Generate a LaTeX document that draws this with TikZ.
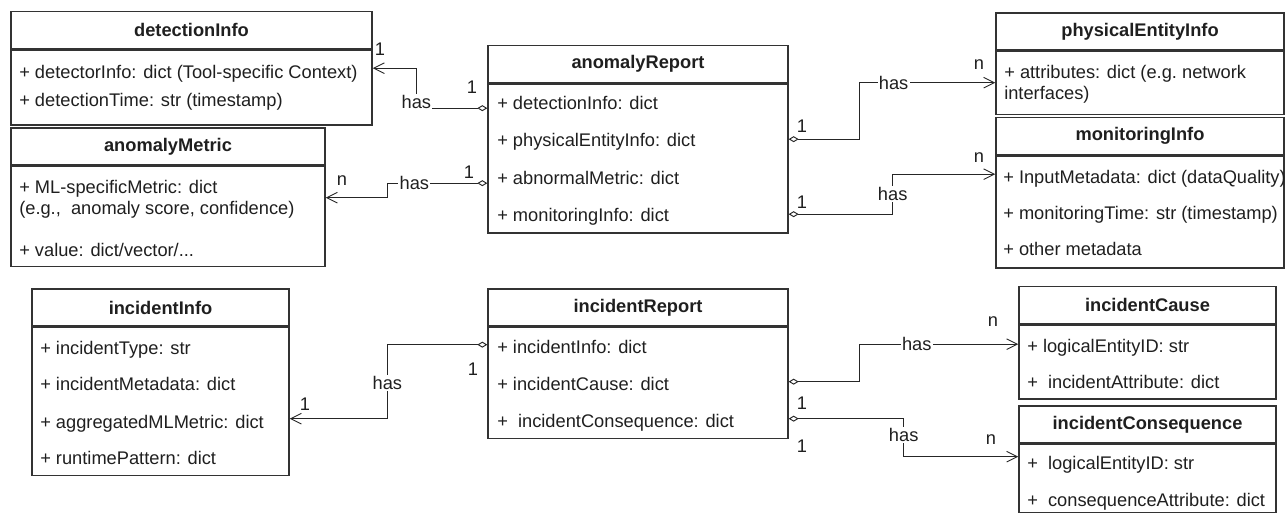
\documentclass[tikz,border=0pt]{standalone}
\usepackage{fontspec}
\setmainfont{Liberation Sans}
\usetikzlibrary{positioning,calc,arrows.meta}

\tikzset{
    every node/.style={font=\fontsize{13.7}{15.75}\selectfont, text=black!88},
    ctitle/.style={draw=black!80, line width=1pt, inner sep=0pt, minimum height=27.75pt,
        minimum width=#1*0.75pt, font=\fontsize{13.7}{15.75}\selectfont\bfseries},
    cbody/.style 2 args={draw=black!80, line width=1pt, inner sep=0pt,
        minimum width=#1*0.75pt, minimum height=#2*0.75pt},
    attr/.style={anchor=base west, inner sep=0pt, align=left},
    assoc/.style={draw=black!85, line width=0.7pt,
        {Diamond[open,length=7.5pt,width=4.5pt]}-{Straight Barb[length=8pt,width=8pt]}},
    haslbl/.style={fill=white, inner sep=1pt},
    mult/.style={inner sep=0pt}
}

\begin{document}
\begin{tikzpicture}[x=0.75pt, y=-0.75pt]
    \useasboundingbox (0,0) rectangle (1286,512);

    % anomaly side
    \node[ctitle=361] (detTitle) at (191.5,30) {detectionInfo};
    \node[cbody={361}{75}, below=0pt of detTitle] (detBody) {};
    \node[attr] (det1) at (19,78) {+ detectorInfo: dict (Tool-specific Context)};
    \node[attr] (det2) at (19,106) {+ detectionTime: str (timestamp)};

    \node[ctitle=314] (amTitle) at (168,146.5) {anomalyMetric};
    \node[cbody={314}{100}, below=0pt of amTitle] (amBody) {};
    \node[attr] (am1) at (19,214) {+ ML-specificMetric: dict\\(e.g.,\ \ anomaly score, confidence)};
    \node[attr] (am2) at (19,256) {+ value: dict/vector/...};

    \node[ctitle=300] (arTitle) at (638,64) {anomalyReport};
    \node[cbody={300}{149}, below=0pt of arTitle] (arBody) {};
    \node[attr] (ar1) at (497,109) {+ detectionInfo: dict};
    \node[attr] (ar2) at (497,146) {+ physicalEntityInfo: dict};
    \node[attr] (ar3) at (497,184) {+ abnormalMetric: dict};
    \node[attr] (ar4) at (497,221) {+ monitoringInfo: dict};

    \node[ctitle=288] (peTitle) at (1140,31.5) {physicalEntityInfo};
    \node[cbody={288}{63}, below=0pt of peTitle] (peBody) {};
    \node[attr] (pe1) at (1004,99) {+ attributes: dict (e.g.\ network\\interfaces)};

    \node[ctitle=288] (miTitle) at (1140,136) {monitoringInfo};
    \node[cbody={288}{112}, below=0pt of miTitle] (miBody) {};
    \node[attr] (mi1) at (1003,183) {+ InputMetadata: dict (dataQuality)};
    \node[attr] (mi2) at (1003,219) {+ monitoringTime: str (timestamp)};
    \node[attr] (mi3) at (1003,255) {+ other metadata};

    % incident side
    \node[ctitle=257] (iiTitle) at (160.5,307.5) {incidentInfo};
    \node[cbody={257}{148}, below=0pt of iiTitle] (iiBody) {};
    \node[attr] (ii1) at (40,354) {+ incidentType: str};
    \node[attr] (ii2) at (40,390) {+ incidentMetadata: dict};
    \node[attr] (ii3) at (40,428) {+ aggregatedMLMetric: dict};
    \node[attr] (ii4) at (40,464) {+ runtimePattern: dict};

    \node[ctitle=300] (irTitle) at (638,307.5) {incidentReport};
    \node[cbody={300}{111}, below=0pt of irTitle] (irBody) {};
    \node[attr] (ir1) at (497,353) {+ incidentInfo: dict};
    \node[attr] (ir2) at (497,390) {+ incidentCause: dict};
    \node[attr] (ir3) at (497,427) {+ \ incidentConsequence: dict};

    \node[ctitle=257] (icTitle) at (1147.5,305) {incidentCause};
    \node[cbody={257}{74}, below=0pt of icTitle] (icBody) {};
    \node[attr] (ic1) at (1027,352) {+ logicalEntityID: str};
    \node[attr] (ic2) at (1027,388) {+ \ incidentAttribute: dict};

    \node[ctitle=257] (iqTitle) at (1147.5,424.5) {incidentConsequence};
    \node[cbody={257}{68}, below=0pt of iqTitle] (iqBody) {};
    \node[attr] (iq1) at (1027,469) {+ \ logicalEntityID: str};
    \node[attr] (iq2) at (1027,506) {+ \ consequenceAttribute: dict};

    % associations
    \draw[assoc] ($(arBody.north west)+(0,25)$) -- ++(-71,0) node[haslbl, anchor=base] {has}
        |- ($(detBody.north east)+(0,19)$);
    \draw[assoc] ($(arBody.north west)+(0,100)$) -- node[haslbl, pos=0.73] {has} ++(-100,0)
        |- ($(amBody.north east)+(0,32)$);
    \draw[assoc] ($(arBody.north east)+(0,56)$) -- ++(71,0)
        |- node[haslbl, pos=0.625] {has} ($(peBody.north west)+(0,32)$);
    \draw[assoc] ($(arBody.north east)+(0,131)$) -- ++(104,0)
        |- node[haslbl, pos=0.25] {has} ($(miBody.north west)+(0,19)$);
    \draw[assoc] ($(irBody.north west)+(0,18)$) -- ++(-100,0)
        |- node[haslbl, pos=0.26] {has} ($(iiBody.north east)+(0,92)$);
    \draw[assoc] ($(irBody.north east)+(0,55)$) -- ++(71,0)
        |- node[haslbl, pos=0.68] {has} ($(icBody.north west)+(0,20)$);
    \draw[assoc] ($(irBody.north east)+(0,92)$) -- ++(115,0)
        |- node[haslbl, pos=0.21] {has} ($(iqBody.north west)+(0,13)$);

    % multiplicities
    \node[mult] (mA1) at (380,49) {1};
    \node[mult] (mA2) at (472,87) {1};
    \node[mult] (mB1) at (469,172) {1};
    \node[mult] (mB2) at (342,181) {n};
    \node[mult] (mC1) at (802,126) {1};
    \node[mult] (mC2) at (979,65) {n};
    \node[mult] (mD1) at (802,202) {1};
    \node[mult] (mD2) at (979,158) {n};
    \node[mult] (mE1) at (473,369) {1};
    \node[mult] (mE2) at (305,404) {1};
    \node[mult] (mF1) at (802,403) {1};
    \node[mult] (mF2) at (993,322) {n};
    \node[mult] (mG1) at (802,446) {1};
    \node[mult] (mG2) at (991,440) {n};
\end{tikzpicture}
\end{document}
